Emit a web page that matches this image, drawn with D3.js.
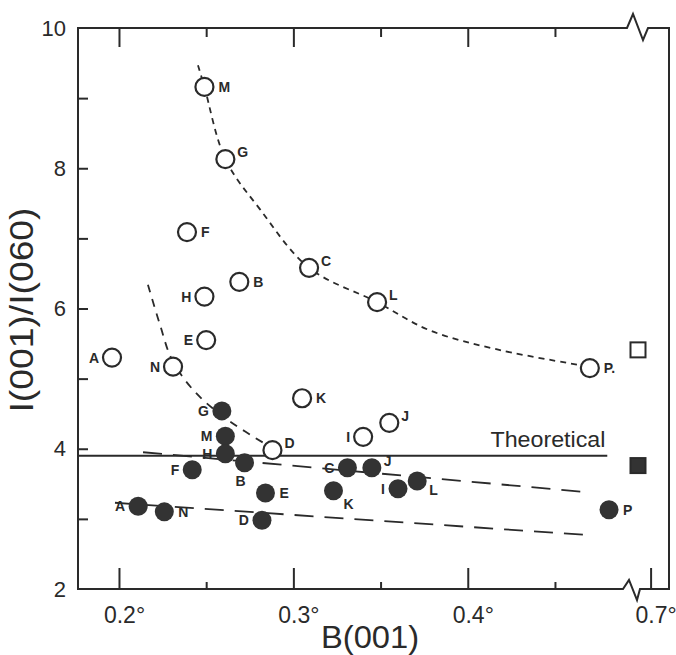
<!DOCTYPE html>
<html>
<head>
<meta charset="utf-8">
<script src="https://cdn.jsdelivr.net/npm/d3@7"></script>
<style>
  body { margin: 0; background: #fff; }
  text { font-family: "Liberation Sans", Arial, sans-serif; fill: #2a2a2a; }
</style>
</head>
<body>
<div id="chart"></div>
<script>
// values
// open circles
var openLabels = ["M", "G", "F", "C", "B", "H", "L", "E", "A", "N", "K", "J", "I", "D", "P."];
var openB = [0.249, 0.261, 0.239, 0.309, 0.269, 0.249, 0.348, 0.250, 0.196, 0.231, 0.305, 0.355, 0.340, 0.288, 0.470];
var openI = [9.16, 8.13, 7.09, 6.58, 6.38, 6.17, 6.09, 5.55, 5.30, 5.17, 4.72, 4.37, 4.17, 3.98, 5.15];

// filled circles
var fillLabels = ["G", "M", "H", "F", "B", "E", "D", "A", "N", "C", "J", "K", "I", "L", "P"];
var fillB = [0.259, 0.261, 0.261, 0.242, 0.272, 0.284, 0.282, 0.211, 0.226, 0.331, 0.345, 0.323, 0.360, 0.371, 0.481];
var fillI = [4.54, 4.18, 3.93, 3.70, 3.80, 3.37, 2.98, 3.18, 3.10, 3.73, 3.73, 3.40, 3.43, 3.54, 3.13];

// squares at the broken end of the axis
var squareB = [0.687, 0.687];
var squareI = [5.41, 3.76];

var theoretical = 3.90;

// curves drawn through the points
var curveOpen = [[0.2453, 9.47], [0.249, 9.16], [0.261, 8.13], [0.281, 7.41], [0.309, 6.58], [0.348, 6.09], [0.378, 5.69], [0.418, 5.41], [0.470, 5.17]];
var curveMid = [[0.2166, 6.34], [0.2235, 5.77], [0.2304, 5.27], [0.2436, 4.81], [0.2625, 4.41], [0.2865, 4.03]];
var lineUpper = [[0.2138, 3.95], [0.4687, 3.38]];
var lineLower = [[0.1977, 3.23], [0.4687, 2.77]];

var xMajor = [0.2, 0.3, 0.4, 0.7];
var xMinor = [0.25, 0.35, 0.45];
var yLabels = [2, 4, 6, 8, 10];
var yMinor = [3, 4, 5, 6, 7, 8, 9];

// label side for each point
var openSide = ["r", "ru", "r", "ru", "r", "l", "ru", "l", "l", "l", "r", "ru", "l", "ru", "r"];
var fillSide = ["l", "l", "l", "l", "b", "r", "l", "l", "r", "l", "ru", "br", "l", "rd", "r"];

var width = 676, height = 655;
var plotLeft = 78, plotRight = 669, plotTop = 28, plotBottom = 589;

var svg = d3.select("#chart").append("svg")
    .attr("width", width)
    .attr("height", height);

// broken x scale: 0.18-0.485 then a jump to 0.7
var x = d3.scaleLinear()
    .domain([0.1765, 0.485, 0.687, 0.719])
    .range([plotLeft, 616, 638, plotRight]);

var y = d3.scaleLinear()
    .domain([2, 10])
    .range([plotBottom, plotTop]);

var ink = "#2a2a2a";

// frame with the breaks
var xb = 635;
var frame = d3.path();
frame.moveTo(plotLeft, plotTop);
frame.lineTo(plotLeft, plotBottom);
frame.lineTo(xb - 12, plotBottom);
frame.lineTo(xb - 6, plotBottom - 9);
frame.lineTo(xb + 2, plotBottom + 11);
frame.lineTo(xb + 5, plotBottom);
frame.lineTo(plotRight, plotBottom);
frame.lineTo(plotRight, plotTop);
frame.lineTo(xb + 13, plotTop);
frame.lineTo(xb + 8, plotTop + 12);
frame.lineTo(xb - 2, plotTop - 14);
frame.lineTo(xb - 8, plotTop);
frame.closePath();
svg.append("path")
    .attr("d", frame.toString())
    .attr("fill", "none")
    .attr("stroke", ink)
    .attr("stroke-width", 2)
    .attr("stroke-linejoin", "miter");

function cleanAxis(g) {
    g.select(".domain").remove();
    g.selectAll(".tick line").attr("stroke", ink).attr("stroke-width", 2);
}

// bottom axis
svg.append("g")
    .attr("transform", `translate(0, ${plotBottom})`)
    .call(d3.axisBottom(x).tickValues(xMajor).tickSize(-21).tickPadding(18)
        .tickFormat(d => d + "°"))
    .call(cleanAxis)
    .call(g => g.selectAll(".tick text")
        .attr("font-size", 23)
        .attr("dx", 5)
        .attr("fill", ink)
        .attr("font-family", "Liberation Sans, Arial, sans-serif"));

svg.append("g")
    .attr("transform", `translate(0, ${plotBottom})`)
    .call(d3.axisBottom(x).tickValues(xMinor).tickSize(-7).tickFormat(""))
    .call(cleanAxis);

// top edge ticks (mirror of the bottom ones, pointing down)
svg.append("g")
    .attr("transform", `translate(0, ${plotTop})`)
    .call(d3.axisBottom(x).tickValues(xMajor.slice(0, 3)).tickSize(19).tickFormat(""))
    .call(cleanAxis);

svg.append("g")
    .attr("transform", `translate(0, ${plotTop})`)
    .call(d3.axisBottom(x).tickValues(xMinor).tickSize(9).tickFormat(""))
    .call(cleanAxis);

// left axis
svg.append("g")
    .attr("transform", `translate(${plotLeft}, 0)`)
    .call(d3.axisLeft(y).tickValues(yMinor).tickSize(-10).tickFormat(""))
    .call(cleanAxis);

svg.append("g")
    .attr("transform", `translate(${plotLeft}, 0)`)
    .call(d3.axisLeft(y).tickValues(yLabels).tickSize(0).tickPadding(12))
    .call(cleanAxis)
    .call(g => g.selectAll(".tick text")
        .attr("font-size", 22)
        .attr("fill", ink)
        .attr("font-family", "Liberation Sans, Arial, sans-serif"));

// axis titles
svg.append("text")
    .attr("x", 370)
    .attr("y", 648)
    .attr("text-anchor", "middle")
    .attr("font-size", 31)
    .attr("textLength", 98)
    .attr("lengthAdjust", "spacingAndGlyphs")
    .text("B(001)");

svg.append("text")
    .attr("transform", "translate(33, 310) rotate(-90)")
    .attr("text-anchor", "middle")
    .attr("font-size", 33)
    .attr("textLength", 205)
    .attr("lengthAdjust", "spacingAndGlyphs")
    .text("I(001)/I(060)");

// theoretical line
svg.append("line")
    .attr("x1", plotLeft)
    .attr("x2", x(0.48))
    .attr("y1", y(theoretical))
    .attr("y2", y(theoretical))
    .attr("stroke", ink)
    .attr("stroke-width", 2);

svg.append("text")
    .attr("x", x(0.413))
    .attr("y", y(theoretical) - 9)
    .attr("font-size", 22)
    .attr("textLength", 115)
    .attr("lengthAdjust", "spacingAndGlyphs")
    .text("Theoretical");

// dashed curves
var line = d3.line()
    .x(d => x(d[0]))
    .y(d => y(d[1]));

svg.append("path")
    .attr("d", line.curve(d3.curveCatmullRom)(curveOpen))
    .attr("fill", "none")
    .attr("stroke", ink)
    .attr("stroke-width", 1.8)
    .attr("stroke-dasharray", "6,5");

svg.append("path")
    .attr("d", line.curve(d3.curveCatmullRom)(curveMid))
    .attr("fill", "none")
    .attr("stroke", ink)
    .attr("stroke-width", 1.8)
    .attr("stroke-dasharray", "8,7");

[lineUpper, lineLower].forEach(function(pts) {
    svg.append("path")
        .attr("d", line.curve(d3.curveLinear)(pts))
        .attr("fill", "none")
        .attr("stroke", ink)
        .attr("stroke-width", 1.8)
        .attr("stroke-dasharray", "19,11");
});

// point labels
function labelPos(side) {
    if (side == "l") return [-13, 5, "end"];
    if (side == "r") return [14, 5, "start"];
    if (side == "ru") return [12, -2, "start"];
    if (side == "rd") return [12, 14, "start"];
    if (side == "br") return [10, 18, "start"];
    return [-4, 23, "middle"];
}

function drawPoints(xs, ys, labels, sides, filled) {
    var pts = xs.map((d, i) => ({ b: d, v: ys[i], lbl: labels[i], side: sides[i] }));

    svg.append("g").selectAll("circle")
        .data(pts)
        .enter()
        .append("circle")
        .attr("cx", d => x(d.b))
        .attr("cy", d => y(d.v))
        .attr("r", filled ? 9.5 : 9)
        .attr("fill", filled ? "#333" : "#fff")
        .attr("stroke", ink)
        .attr("stroke-width", filled ? 0 : 2.2);

    svg.append("g").selectAll("text")
        .data(pts)
        .enter()
        .append("text")
        .attr("x", d => x(d.b) + labelPos(d.side)[0])
        .attr("y", d => y(d.v) + labelPos(d.side)[1])
        .attr("text-anchor", d => labelPos(d.side)[2])
        .attr("font-size", 14)
        .attr("font-weight", "bold")
        .text(d => d.lbl);
}

drawPoints(openB, openI, openLabels, openSide, false);
drawPoints(fillB, fillI, fillLabels, fillSide, true);

// squares
svg.append("g").selectAll("rect")
    .data(squareB.map((d, i) => ({ b: d, v: squareI[i] })))
    .enter()
    .append("rect")
    .attr("x", d => x(d.b) - 7.5)
    .attr("y", d => y(d.v) - 7.5)
    .attr("width", 15)
    .attr("height", 15)
    .attr("fill", (d, i) => i == 0 ? "#fff" : "#333")
    .attr("stroke", ink)
    .attr("stroke-width", 2);
</script>
</body>
</html>
